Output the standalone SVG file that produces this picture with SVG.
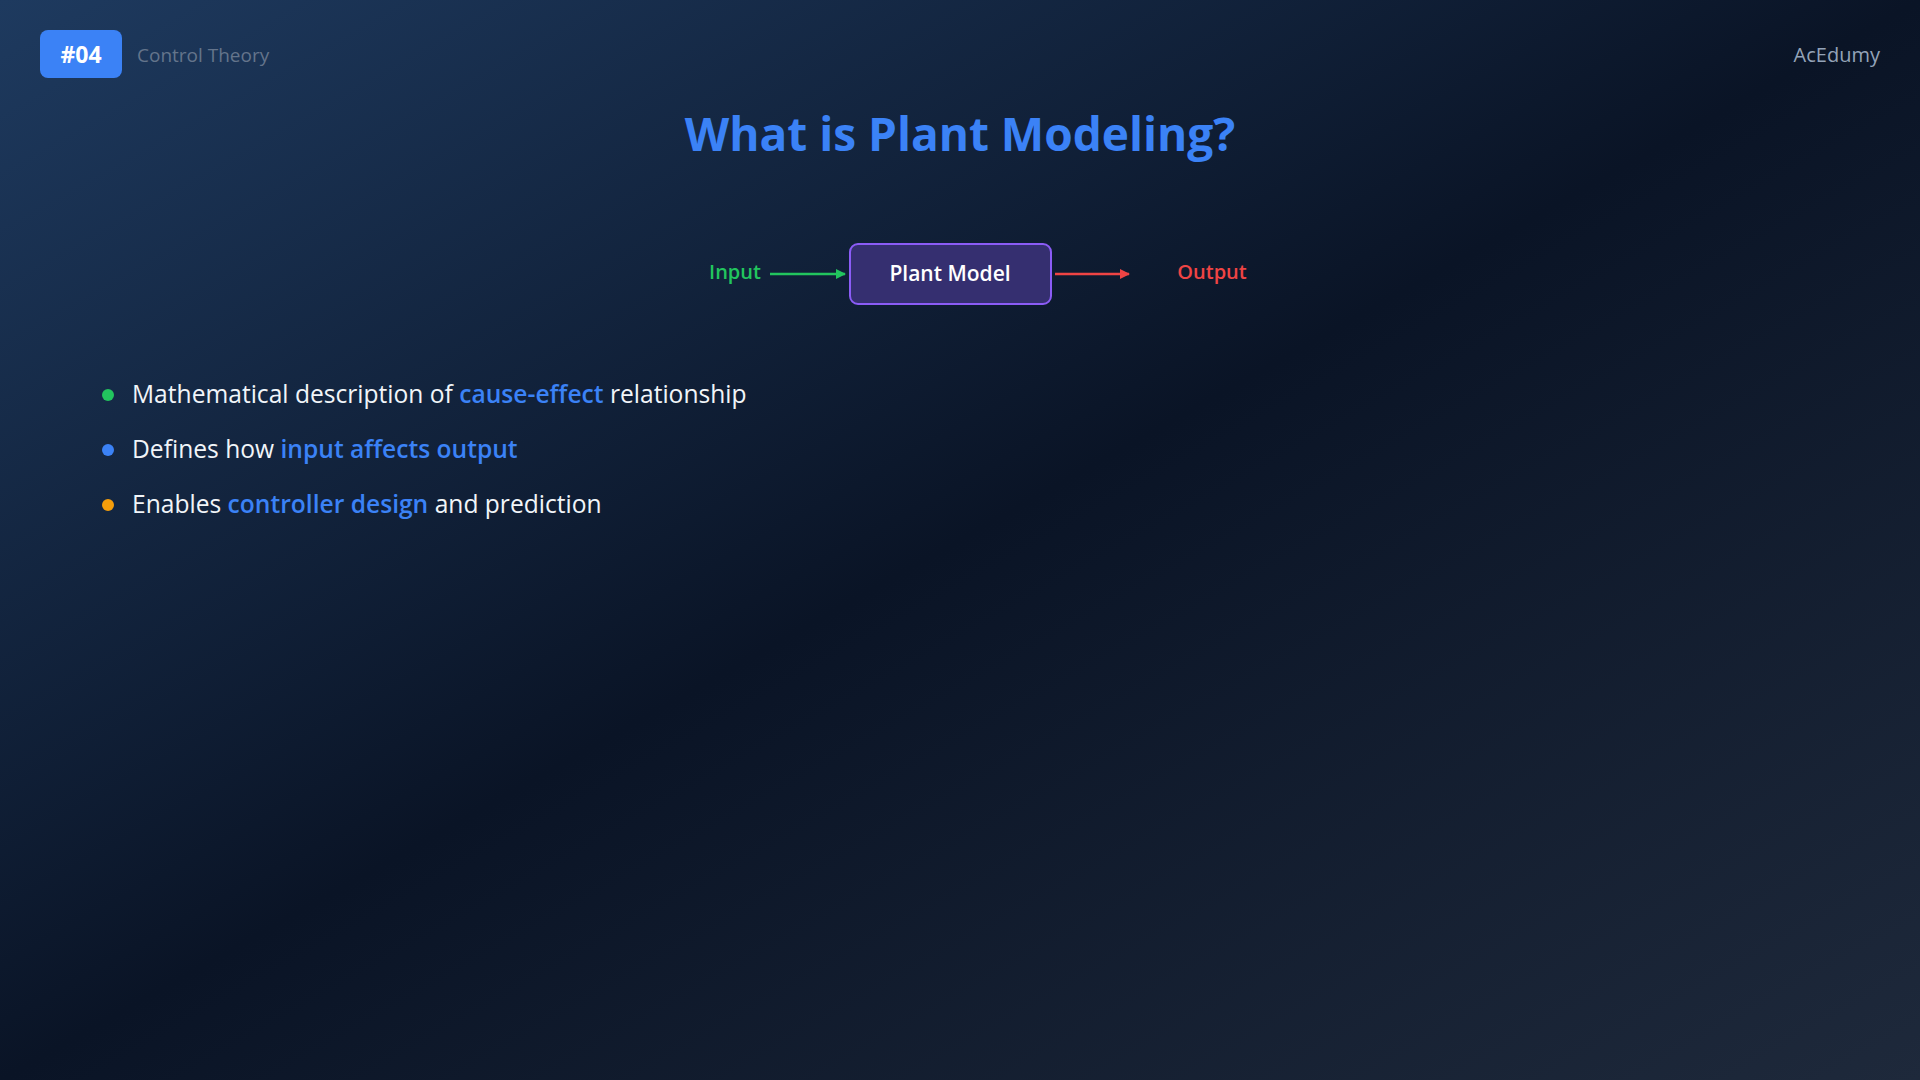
<svg xmlns="http://www.w3.org/2000/svg" width="1920" height="1080" viewBox="0 0 1920 1080">
<defs>
<linearGradient id="bg" x1="0" y1="0" x2="1" y2="1">
<stop offset="0" stop-color="#1e3a5f"/>
<stop offset="0.5" stop-color="#0a1426"/>
<stop offset="1" stop-color="#1e293b"/>
</linearGradient>
<marker id="ag" viewBox="0 0 10 10" refX="9" refY="5" markerWidth="4" markerHeight="4" orient="auto"><path d="M0,0L10,5L0,10z" fill="#22c55e"/></marker>
<marker id="ar" viewBox="0 0 10 10" refX="9" refY="5" markerWidth="4" markerHeight="4" orient="auto"><path d="M0,0L10,5L0,10z" fill="#ef4444"/></marker>
</defs>
<style>
text{font-family:"Open Sans","Noto Sans",sans-serif}
.b{font-size:24.6px;fill:#f1f5f9}
.h{fill:#3b82f6;font-weight:600}
</style>
<rect width="1920" height="1080" fill="url(#bg)"/>
<g id="header">
<rect x="40" y="30" width="82" height="48" rx="8" fill="#3b82f6"/>
<text x="81" y="63" text-anchor="middle" font-size="23" font-weight="700" fill="#fff">#04</text>
<text x="137" y="62" font-size="19" fill="#64748b">Control Theory</text>
<text x="1880" y="62" text-anchor="end" font-size="20" fill="#94a3b8">AcEdumy</text>
</g>
<text id="title" x="960" y="151" text-anchor="middle" font-size="46" font-weight="700" fill="#3b82f6">What is Plant Modeling?</text>
<g id="input"><text x="735" y="279" text-anchor="middle" font-size="20" font-weight="600" fill="#22c55e">Input</text></g>
<g id="plant">
<rect x="850" y="244" width="201" height="60" rx="8" fill="#352f70" stroke="#8b5cf6" stroke-width="2"/>
<text x="950" y="281" text-anchor="middle" font-size="21" font-weight="600" fill="#fff">Plant Model</text>
</g>
<g id="output"><text x="1212" y="279" text-anchor="middle" font-size="20" font-weight="600" fill="#ef4444">Output</text></g>
<g id="connectors">
<line x1="770" y1="274" x2="845" y2="274" stroke="#22c55e" stroke-width="2.5" marker-end="url(#ag)"/>
<line x1="1055" y1="274" x2="1129" y2="274" stroke="#ef4444" stroke-width="2.5" marker-end="url(#ar)"/>
</g>
<g id="bullets">
<circle cx="108" cy="395" r="6" fill="#22c55e"/>
<text class="b" x="132" y="403">Mathematical description of <tspan class="h">cause-effect</tspan> relationship</text>
<circle cx="108" cy="450" r="6" fill="#3b82f6"/>
<text class="b" x="132" y="458">Defines how <tspan class="h">input affects output</tspan></text>
<circle cx="108" cy="505" r="6" fill="#f59e0b"/>
<text class="b" x="132" y="513">Enables <tspan class="h">controller design</tspan> and prediction</text>
</g>
</svg>
